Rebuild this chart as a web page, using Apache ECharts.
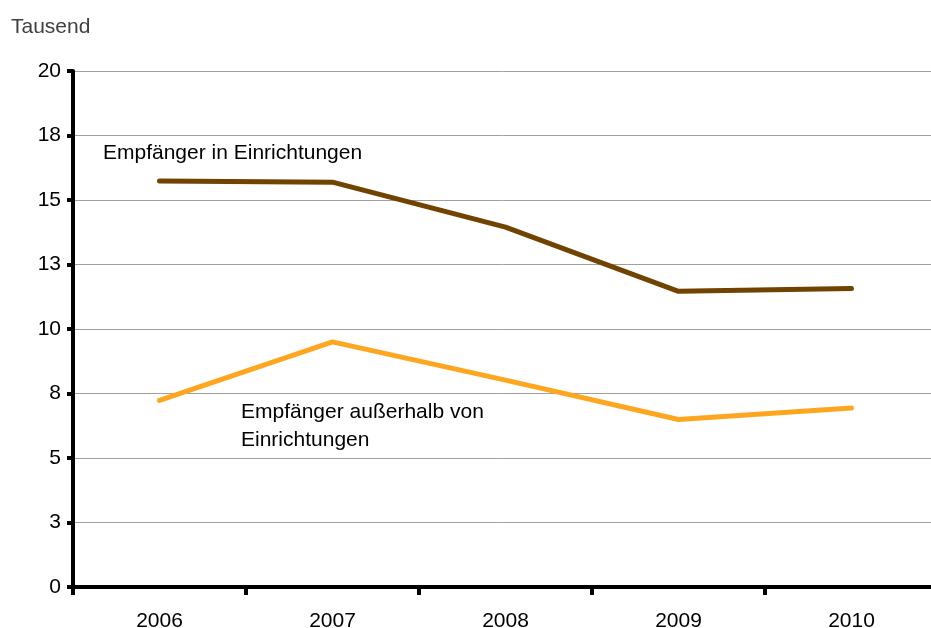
<!DOCTYPE html>
<html lang="de">
<head>
	<meta charset="UTF-8">
	<title>Empfänger</title>
	<script src="https://cdn.jsdelivr.net/npm/echarts@6/dist/echarts.min.js"></script>
	<style>
		html,body{margin:0;padding:0;background:#fff;}
		#chart{width:931px;height:628px;}
	</style>
</head>
<body>
	<div id="chart"></div>
	<script type="text/javascript">
		// Daten (Tausend)
		var years = ['2006', '2007', '2008', '2009', '2010'];
		var inEinrichtungen = [15.74, 15.69, 13.95, 11.46, 11.57];
		var ausserhalb = [7.23, 9.50, 8.02, 6.49, 6.94];
		var yTickLabels = ['0', '3', '5', '8', '10', '13', '15', '18', '20'];

		var myChart = echarts.init(document.getElementById('chart'));
		var font = 'Liberation Sans, Arial, sans-serif';

		var option = {
			animation: false,
			title: {
				text: 'Tausend',
				left: 6,
				top: 12,
				textStyle: {color: '#404040', fontSize: 21, fontWeight: 'normal', fontFamily: font}
			},
			// Zeichenfläche geht rechts etwas über den Rand hinaus
			grid: {left: 73, top: 71, width: 865, height: 516, outerBoundsMode: 'none'},
			xAxis: {
				type: 'category',
				data: years,
				boundaryGap: true,
				axisLine: {lineStyle: {color: '#000', width: 4}},
				axisTick: {show: true, inside: false, length: 8, lineStyle: {color: '#000', width: 4}},
				axisLabel: {margin: 24, color: '#000', fontSize: 21, fontFamily: font},
				splitLine: {show: false}
			},
			yAxis: {
				type: 'value',
				min: 0,
				max: 20,
				interval: 2.5,
				axisLine: {show: true, lineStyle: {color: '#000', width: 4}},
				axisTick: {show: true, length: 6, lineStyle: {color: '#000', width: 4}},
				axisLabel: {
					margin: 12, color: '#000', fontSize: 21, fontFamily: font,
					formatter: function (v) { return yTickLabels[Math.round(v / 2.5)]; }
				},
				splitLine: {lineStyle: {color: '#a0a0a0', width: 1}}
			},
			series: [
				{
					name: 'Empfänger in Einrichtungen',
					type: 'line',
					data: inEinrichtungen,
					symbol: 'none',
					lineStyle: {color: '#704300', width: 5, cap: 'round'}
				},
				{
					name: 'Empfänger außerhalb von Einrichtungen',
					type: 'line',
					data: ausserhalb,
					symbol: 'none',
					lineStyle: {color: '#ffa620', width: 5, cap: 'round'}
				}
			],
			graphic: [
				{
					type: 'text', left: 103, top: 143,
					style: {text: 'Empfänger in Einrichtungen', fill: '#000', fontSize: 21, fontFamily: font}
				},
				{
					type: 'text', left: 241, top: 398,
					style: {text: 'Empfänger außerhalb von\nEinrichtungen', fill: '#000', fontSize: 21, lineHeight: 28, fontFamily: font}
				}
			]
		};
		myChart.setOption(option);
	</script>
</body>
</html>
